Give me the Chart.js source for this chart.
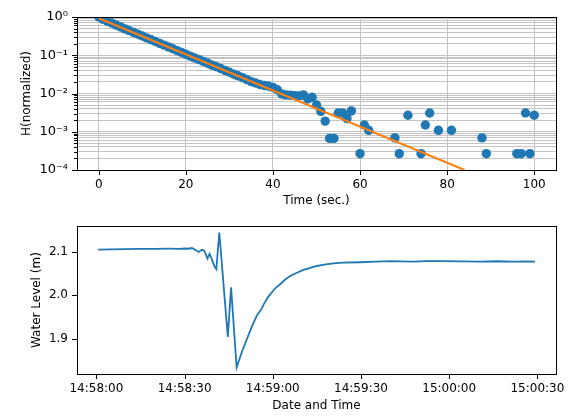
<!DOCTYPE html>
<html><head><meta charset="utf-8">
<script src="https://cdn.jsdelivr.net/npm/chart.js@4/dist/chart.umd.min.js"></script>
<style>
html,body{margin:0;padding:0;background:#fff;width:573px;height:417px;overflow:hidden}
#c1{position:absolute;left:0;top:0}
#c2{position:absolute;left:0;top:210px}
</style></head><body>
<canvas id="c1" width="573" height="210"></canvas>
<canvas id="c2" width="573" height="207"></canvas>
<script>
// ---- Top chart data: normalized head vs time (null = not shown on log axis) ----
const decayTime = [0,1,2,3,4,5,6,7,8,9,10,11,12,13,14,15,16,17,18,19,20,21,22,23,24,25,26,27,28,29,30,31,32,33,34,35,36,37,38,39,40,41,42,43,44,45,46,47,48,49,50,51,52,53,54,55,56,57,58,59,60,61,62,63,64,65,66,67,68,69,70,71,72,73,74,75,76,77,78,79,80,81,82,83,84,85,86,87,88,89,90,91,92,93,94,95,96,97,98,99,100];
const decayH = [1.0,0.87,0.77,0.69,0.615,0.55,0.49,0.44,0.395,0.355,0.318,0.285,0.255,0.229,0.205,0.184,0.165,0.148,0.132,0.119,0.106,0.095,0.085,0.077,0.069,0.062,0.055,0.050,0.045,0.040,0.036,0.032,0.029,0.026,0.023,0.0205,0.0188,0.0172,0.0162,0.0155,0.0145,0.0125,0.0098,0.0092,0.0090,0.0088,0.0086,0.0092,0.0072,0.0080,0.0050,0.0034,0.0019,0.00067,0.00067,0.0031,0.0031,0.0022,0.0035,null,0.000267,0.0015,0.00109,null,null,null,null,null,0.00069,0.000267,null,0.0027,null,null,0.000267,0.0015,0.0031,null,0.00109,null,null,0.00109,null,null,null,null,null,null,0.00069,0.000267,null,null,null,null,null,null,0.000267,0.000267,0.0031,0.000267,0.0027];
// fitted line endpoints
const fitTime = [0, 84];
const fitH = [0.93, 0.0001];
const topXTicks = [0,20,40,60,80,100];
const topYMajor = [1e-4,1e-3,1e-2,1e-1,1];
const topYLabels = ['10\u207B\u2074','10\u207B\u00B3','10\u207B\u00B2','10\u207B\u00B9','10\u2070'];
const minorMult = [2,3,4,5,6,7,8,9];

// ---- Bottom chart data: water level vs seconds after 14:58:00 ----
const waterTime = [0.6,5,10,15,20,25,28,30.4,31.4,32.5,33.6,34.8,35.9,36.7,37.8,38.5,39.3,40.1,40.8,41.8,44.7,45.8,47.7,49.5,51.2,52.9,54.6,56.3,56.8,58.5,60.8,62.8,64.2,65.9,68,70.4,72.5,75.0,77.5,80.6,84,89.7,95,99.9,103,107.8,112,118,124,130.5,136,141.8,146,149.2];
const waterLevel = [2.1045,2.105,2.1055,2.106,2.1063,2.1065,2.1062,2.107,2.1065,2.108,2.104,2.099,2.104,2.102,2.084,2.095,2.082,2.067,2.060,2.1435,1.905,2.018,1.835,1.871,1.900,1.929,1.954,1.970,1.978,1.997,2.016,2.027,2.036,2.044,2.051,2.058,2.062,2.067,2.070,2.073,2.0745,2.0756,2.077,2.078,2.0775,2.077,2.078,2.078,2.0775,2.077,2.0778,2.077,2.0775,2.077];
const timeTickValues = [0,30,60,90,120,150];
const timeTickLabels = ['14:58:00','14:58:30','14:59:00','14:59:30','15:00:00','15:00:30'];
const levelTicks = [1.9,2.0,2.1];

Chart.defaults.font.family = "'DejaVu Sans'";
Chart.defaults.font.size = 12;
Chart.defaults.color = '#000';

const framePlugin = {
  id: 'frame',
  afterDraw(chart) {
    const {ctx, chartArea: {left, right, top, bottom}} = chart;
    ctx.save();
    ctx.strokeStyle = '#000';
    ctx.lineWidth = 1;
    const xs = chart.scales.x, ys = chart.scales.y;
    xs.ticks.forEach(t => {
      const p = Math.round(xs.getPixelForValue(t.value)) + 0.5;
      ctx.beginPath(); ctx.moveTo(p, bottom); ctx.lineTo(p, bottom + 5); ctx.stroke();
    });
    ys.ticks.forEach(t => {
      const len = t.minor ? 3 : 5;
      const p = Math.round(ys.getPixelForValue(t.value)) + 0.5;
      ctx.beginPath(); ctx.moveTo(left, p); ctx.lineTo(left - len, p); ctx.stroke();
    });
    ctx.strokeRect(Math.round(left) + 0.5, Math.round(top) + 0.5, Math.round(right - left), Math.round(bottom - top));
    ctx.restore();
  }
};

const decayPoints = [];
decayTime.forEach((t, i) => { if (decayH[i] !== null) decayPoints.push({x: t, y: decayH[i]}); });

new Chart(document.getElementById('c1'), {
  type: 'scatter',
  data: {
    datasets: [
      {data: fitTime.map((t, i) => ({x: t, y: fitH[i]})), showLine: true, borderColor: '#ff7f0e', borderWidth: 2, pointRadius: 0, order: 0},
      {data: decayPoints, backgroundColor: '#1f77b4', borderWidth: 0, pointRadius: 4.7, order: 1}
    ]
  },
  options: {
    responsive: false, animation: false,
    layout: {padding: {left: 0, right: 17, top: 17, bottom: 2}},
    plugins: {legend: {display: false}, tooltip: {enabled: false}},
    scales: {
      x: {
        type: 'linear', min: -5, max: 105,
        afterBuildTicks: s => { s.ticks = topXTicks.map(v => ({value: v})); },
        afterFit: s => { s.height = 38; },
        ticks: {padding: 8, maxRotation: 0, autoSkip: false, callback: v => String(v)},
        grid: {drawTicks: false, color: '#c4c4c4', lineWidth: 1},
        border: {display: false},
        title: {display: true, text: 'Time (sec.)', padding: {top: 0, bottom: 0}}
      },
      y: {
        type: 'logarithmic', min: 1e-4, max: 1,
        afterBuildTicks: s => {
          const arr = [];
          topYMajor.forEach((v, i) => {
            arr.push({value: v, lbl: topYLabels[i], minor: false});
            if (i < topYMajor.length - 1) minorMult.forEach(m => arr.push({value: m * v, lbl: '', minor: true}));
          });
          s.ticks = arr;
        },
        afterFit: s => { s.width = 77; },
        ticks: {padding: 9, autoSkip: false, font: {size: 13}, callback: (v, i, ticks) => ticks[i].lbl},
        grid: {drawTicks: false, color: '#c4c4c4', lineWidth: 1},
        border: {display: false},
        title: {display: true, text: 'H(normalized)', padding: {top: 20, bottom: 0}}
      }
    }
  },
  plugins: [framePlugin]
});

new Chart(document.getElementById('c2'), {
  type: 'scatter',
  data: {
    datasets: [
      {data: waterTime.map((t, i) => ({x: t, y: waterLevel[i]})), showLine: true, borderColor: '#1f77b4', borderWidth: 1.8, pointRadius: 0, tension: 0}
    ]
  },
  options: {
    responsive: false, animation: false,
    layout: {padding: {left: 0, right: 17, top: 13, bottom: 4}},
    plugins: {legend: {display: false}, tooltip: {enabled: false}},
    scales: {
      x: {
        type: 'linear', min: -6.6, max: 156.3,
        afterBuildTicks: s => { s.ticks = timeTickValues.map((v, i) => ({value: v, lbl: timeTickLabels[i]})); },
        afterFit: s => { s.height = 39; },
        ticks: {padding: 8, maxRotation: 0, autoSkip: false, callback: (v, i, ticks) => ticks[i].lbl},
        grid: {display: false, drawTicks: false},
        border: {display: false},
        title: {display: true, text: 'Date and Time', padding: {top: 0, bottom: 0}}
      },
      y: {
        type: 'linear', min: 1.82, max: 2.158,
        afterBuildTicks: s => { s.ticks = levelTicks.map(v => ({value: v})); },
        afterFit: s => { s.width = 77; },
        ticks: {padding: 9, autoSkip: false, callback: v => v.toFixed(1)},
        grid: {display: false, drawTicks: false},
        border: {display: false},
        title: {display: true, text: 'Water Level (m)', padding: {top: 30, bottom: 0}}
      }
    }
  },
  plugins: [framePlugin]
});
</script>
</body></html>
